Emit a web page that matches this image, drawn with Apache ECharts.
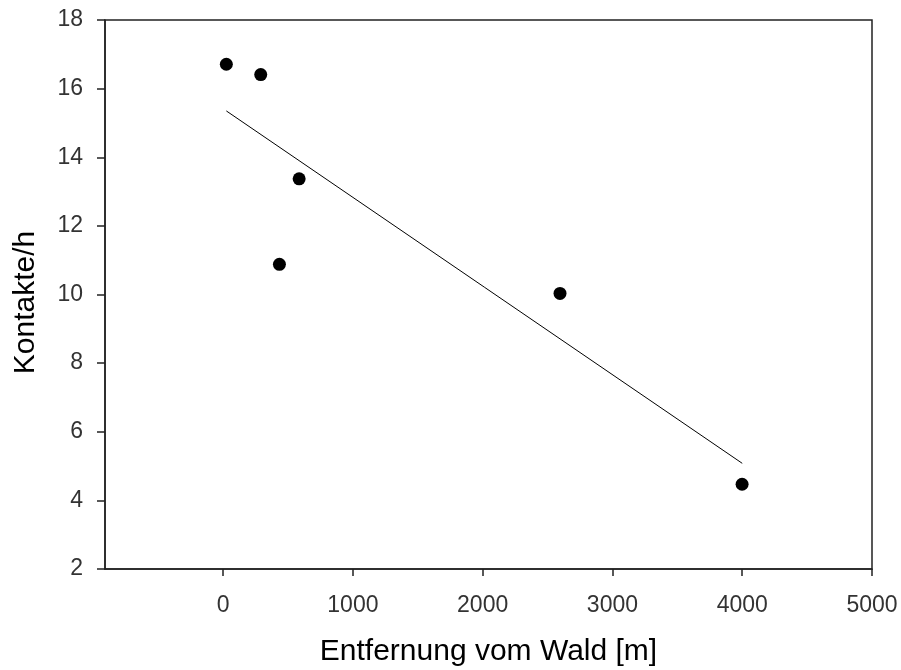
<!DOCTYPE html>
<html>
<head>
<meta charset="utf-8">
<script src="https://cdn.jsdelivr.net/npm/echarts@6/dist/echarts.min.js"></script>
<style>
html,body{margin:0;padding:0;background:#fff;}
#chart{width:901px;height:670px;}
</style>
</head>
<body>
<div id="chart"></div>
<script>
// Data
var distance = [25, 290, 586, 434, 2596, 3999];          // Entfernung vom Wald [m]
var contacts = [16.71, 16.41, 13.37, 10.88, 10.03, 4.47]; // Kontakte/h
var fitX = [25, 4000];       // regression line endpoints (x)
var fitY = [15.35, 5.08];    // regression line endpoints (y)
var xTicks = [0, 1000, 2000, 3000, 4000, 5000];
var yTicks = [2, 4, 6, 8, 10, 12, 14, 16, 18];

var points = distance.map(function (d, i) { return [d, contacts[i]]; });
var fitLine = fitX.map(function (d, i) { return [d, fitY[i]]; });

var chart = echarts.init(document.getElementById('chart'));
var axisColor = '#222';
var font = 'Liberation Sans, Arial, sans-serif';
chart.setOption({
  animation: false,
  backgroundColor: '#fff',
  grid: { left: 105, right: 29, top: 20, bottom: 101, show: true, outerBoundsMode: 'none', containLabel: false,
          borderColor: axisColor, borderWidth: 1.5, backgroundColor: 'transparent' },
  xAxis: {
    type: 'value', min: -910, max: 5000,
    name: 'Entfernung vom Wald [m]', nameLocation: 'middle', nameGap: 68,
    nameTextStyle: { fontFamily: font, fontSize: 30, color: '#000' },
    axisLine: { show: true, onZero: false, lineStyle: { color: axisColor, width: 1.5 } },
    axisTick: { show: true, length: 7, lineStyle: { color: axisColor, width: 1.5 }, customValues: xTicks },
    axisLabel: { fontFamily: font, fontSize: 23, color: '#333', margin: 25, customValues: xTicks,
      formatter: function (v) { return String(v); } },
    splitLine: { show: false }
  },
  yAxis: {
    type: 'value', min: 2, max: 18, interval: 2,
    name: 'Kontakte/h', nameLocation: 'middle', nameGap: 64, nameRotate: 90,
    nameTextStyle: { fontFamily: font, fontSize: 30, color: '#000', padding: [0, 16, 0, 0] },
    axisLine: { show: true, onZero: false, lineStyle: { color: axisColor, width: 1.5 } },
    axisTick: { show: true, length: 8, lineStyle: { color: axisColor, width: 1.5 } },
    axisLabel: { fontFamily: font, fontSize: 23, color: '#333', margin: 22,
      formatter: function (v) { return String(v); } },
    splitLine: { show: false }
  },
  series: [
    {
      type: 'line', data: fitLine, symbol: 'none',
      lineStyle: { color: '#000', width: 1 }, silent: true
    },
    {
      type: 'scatter', data: points, symbol: 'circle', symbolSize: 13,
      itemStyle: { color: '#000', opacity: 1 }
    }
  ]
});
</script>
</body>
</html>
